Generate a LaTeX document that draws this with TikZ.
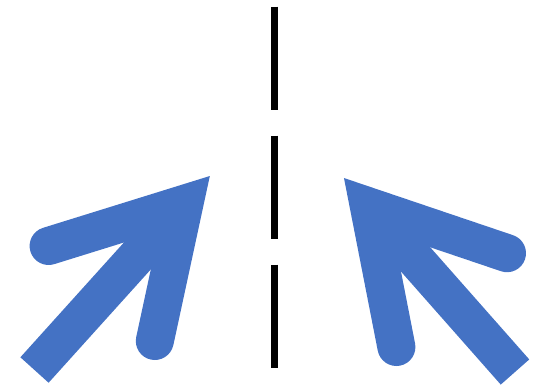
\documentclass[tikz,border=0pt]{standalone}
\definecolor{pblue}{HTML}{4472C4}
\begin{document}
\begin{tikzpicture}[x=1pt,y=-1pt,
  arrowblue/.style={draw=pblue, line width=38pt},
  divider/.style={draw=black, line width=7pt, dash pattern=on 103pt off 26pt}]
\useasboundingbox (0,0) rectangle (533,386);
% dashed divider
\coordinate (dtop) at (274.7,6.7);
\coordinate (dbot) at (274.7,368);
\draw[divider] (dtop) -- (dbot);
% left arrow
\coordinate (ltail) at (34.5,370);
\coordinate (lvert) at (184.4,203.8);
\coordinate (larmA) at (48.6,246);
\coordinate (larmB) at (154.8,341);
\draw[arrowblue, line cap=butt] (ltail) -- (lvert);
\draw[arrowblue, line cap=round, line join=miter] (larmA) -- (lvert) -- (larmB);
% right arrow
\coordinate (rtail) at (515,372);
\coordinate (rvert) at (368.9,206.5);
\coordinate (rarmA) at (507,253.2);
\coordinate (rarmB) at (396.4,347);
\draw[arrowblue, line cap=butt] (rtail) -- (rvert);
\draw[arrowblue, line cap=round, line join=miter] (rarmA) -- (rvert) -- (rarmB);
\end{tikzpicture}
\end{document}
